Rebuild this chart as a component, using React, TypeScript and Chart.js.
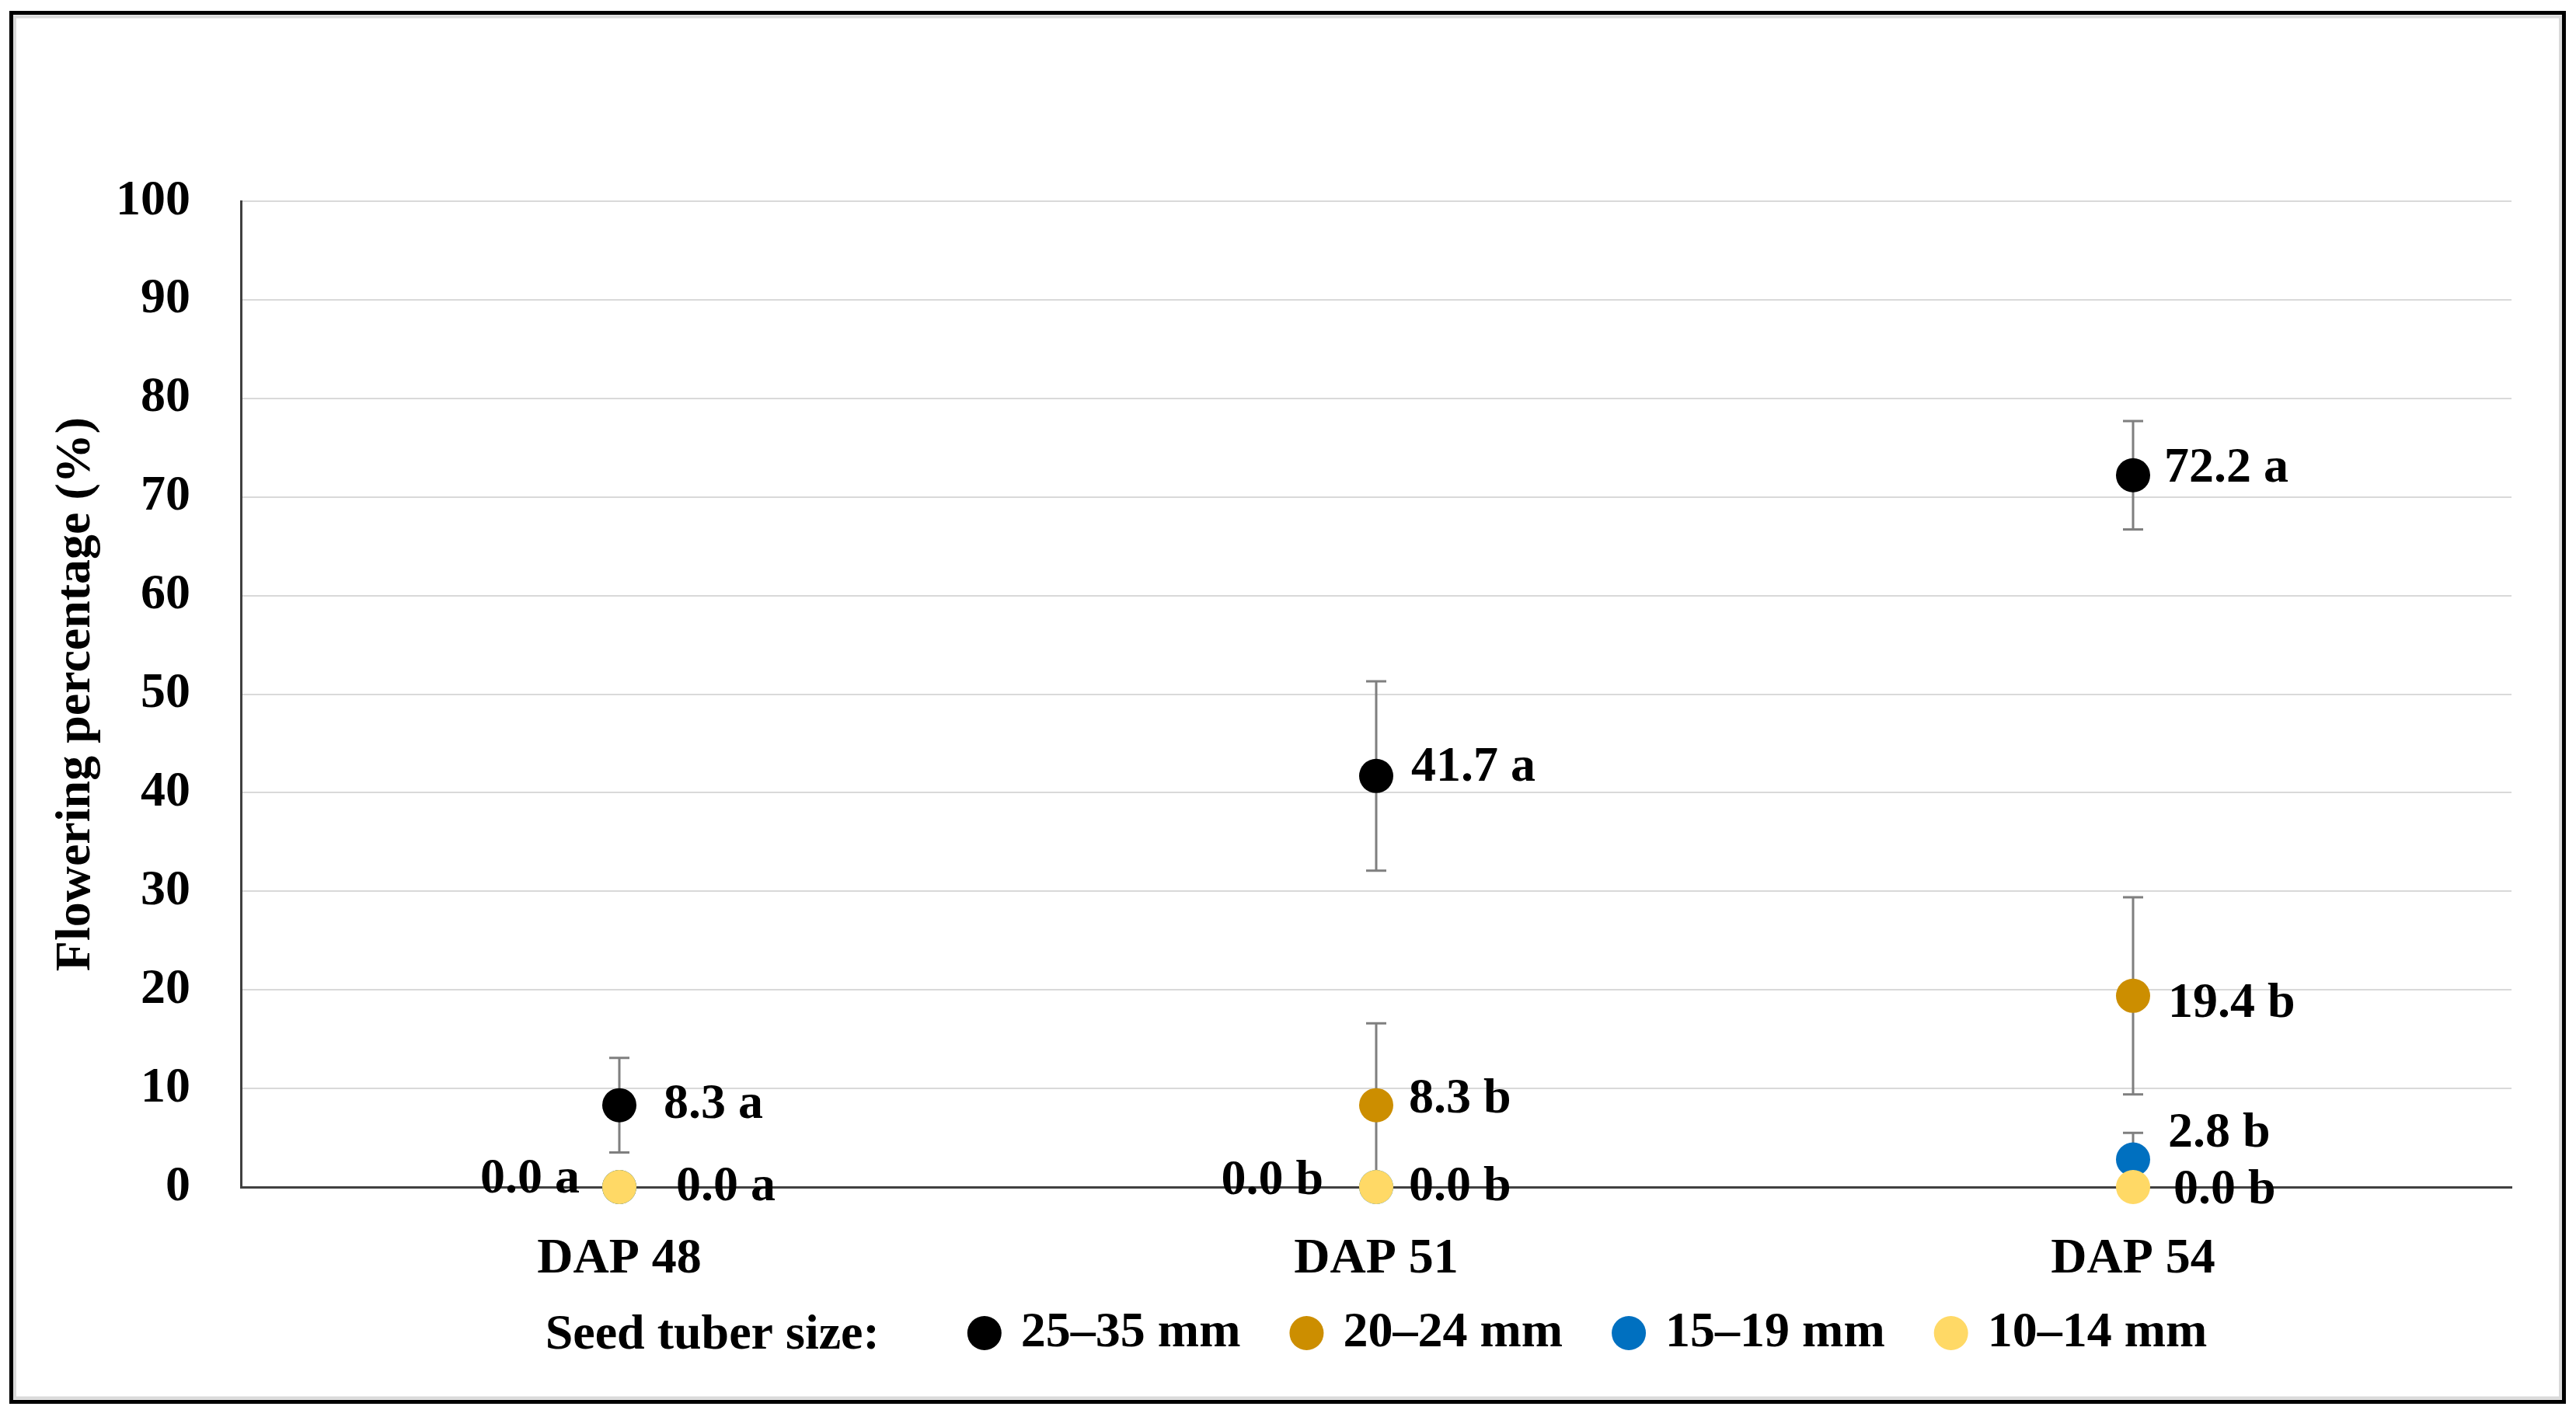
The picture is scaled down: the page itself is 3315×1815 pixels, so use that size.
import React, { useEffect, useRef } from 'react';
import { Chart, registerables } from 'chart.js';

Chart.register(...registerables);

// ---------- data ----------
const categories = ['DAP 48', 'DAP 51', 'DAP 54'];
const seriesNames = ['25–35 mm', '20–24 mm', '15–19 mm', '10–14 mm'];

const size2535 = [8.3, 41.7, 72.2];
const size2024 = [0.0, 8.3, 19.4];
const size1519 = [0.0, 0.0, 2.8];
const size1014 = [0.0, 0.0, 0.0];

const err2535 = [4.8, 9.6, 5.5];
const err2024 = [0, 8.3, 10.0];
const err1519 = [0, 0, 2.7];
const err1014 = [0, 0, 0];

const lbl2535 = ['8.3 a', '41.7 a', '72.2 a'];
const lbl2024 = ['', '8.3 b', '19.4 b'];
const lbl1519 = ['0.0 a', '0.0 b', '2.8 b'];
const lbl1014 = ['0.0 a', '0.0 b', '0.0 b'];

const yMin = 0;
const yMax = 100;
const yStep = 10;

const yAxisTitle = 'Flowering percentage (%)';
const legendTitle = 'Seed tuber size:';

// ---------- styles ----------
const FONT = '"Liberation Serif", "Times New Roman", serif';
const FONT_SIZE = 64;
const colors = ['#000000', '#CC8E00', '#0070C0', '#FFD966'];
const drawOrder = [3, 2, 1, 0];
// label nudges (pixels) per series: side, dx, dy
const labelSide = [
  ['right', 'right', 'right'],
  ['right', 'right', 'right'],
  ['left', 'left', 'right'],
  ['right', 'right', 'right'],
];
const labelDx = [
  [57, 45, 40],
  [45, 42, 45],
  [-51, -68, 45],
  [73, 42, 52],
];
const labelDy = [
  [0, -10, -8],
  [0, -7, 11],
  [-10, -8, -33],
  [0, 0, 4],
];

const values = [size2535, size2024, size1519, size1014];
const errors = [err2535, err2024, err1519, err1014];
const labels = [lbl2535, lbl2024, lbl1519, lbl1014];

const framePlugin = {
  id: 'frame',
  beforeDraw(chart: any) {
    const ctx = chart.ctx;
    const W = chart.width;
    const H = chart.height;
    ctx.save();
    ctx.fillStyle = '#ffffff';
    ctx.fillRect(0, 0, W, H);
    ctx.strokeStyle = '#dadada';
    ctx.lineWidth = 4;
    ctx.strokeRect(19, 21.5, 3295 - 19, 1799.5 - 21.5);
    ctx.strokeStyle = '#000000';
    ctx.lineWidth = 5;
    ctx.strokeRect(14.5, 16.5, 3299.5 - 14.5, 1804.5 - 16.5);
    ctx.restore();
  },
};

const errorBarPlugin = {
  id: 'errorBars',
  beforeDatasetsDraw(chart: any) {
    const ctx = chart.ctx;
    const y = chart.scales.y;
    ctx.save();
    ctx.strokeStyle = '#7F7F7F';
    ctx.lineWidth = 3;
    values.forEach((vals, i) => {
      const meta = chart.getDatasetMeta(i);
      vals.forEach((v, j) => {
        const e = errors[i][j];
        if (!e) return;
        const x = meta.data[j].x;
        const yt = y.getPixelForValue(v + e);
        const yb = y.getPixelForValue(Math.max(v - e, 0));
        ctx.beginPath();
        ctx.moveTo(x, yt);
        ctx.lineTo(x, yb);
        ctx.moveTo(x - 13, yt);
        ctx.lineTo(x + 13, yt);
        ctx.moveTo(x - 13, yb);
        ctx.lineTo(x + 13, yb);
        ctx.stroke();
      });
    });
    ctx.restore();
  },
};

const dataLabelPlugin = {
  id: 'dataLabels',
  afterDatasetsDraw(chart: any) {
    const ctx = chart.ctx;
    ctx.save();
    ctx.fillStyle = '#000000';
    ctx.font = `bold ${FONT_SIZE}px ${FONT}`;
    ctx.textBaseline = 'middle';
    labels.forEach((lbls, i) => {
      const meta = chart.getDatasetMeta(i);
      lbls.forEach((t, j) => {
        if (!t) return;
        const p = meta.data[j];
        ctx.textAlign = labelSide[i][j] === 'left' ? 'right' : 'left';
        ctx.fillText(t, p.x + labelDx[i][j], p.y + labelDy[i][j]);
      });
    });
    ctx.restore();
  },
};

const legendPlugin = {
  id: 'customLegend',
  afterDraw(chart: any) {
    const ctx = chart.ctx;
    const area = chart.chartArea;
    const cy = 1716;
    const r = 22;
    ctx.save();
    ctx.font = `bold ${FONT_SIZE}px ${FONT}`;
    ctx.textBaseline = 'middle';
    ctx.textAlign = 'left';
    const titleW = ctx.measureText(legendTitle).width;
    const textW = seriesNames.map((s) => ctx.measureText(s).width);
    const gapTitle = 113;
    const gapMarkerText = 25;
    const gapItem = 63;
    let total = titleW + gapTitle;
    textW.forEach((w, k) => {
      total += 2 * r + gapMarkerText + w + (k < textW.length - 1 ? gapItem : 0);
    });
    let x = (area.left + area.right) / 2 - total / 2;
    ctx.fillStyle = '#000000';
    ctx.fillText(legendTitle, x, cy + 3);
    x += titleW + gapTitle;
    seriesNames.forEach((s, k) => {
      ctx.fillStyle = colors[k];
      ctx.beginPath();
      ctx.arc(x + r, cy, r, 0, Math.PI * 2);
      ctx.fill();
      x += 2 * r + gapMarkerText;
      ctx.fillStyle = '#000000';
      ctx.fillText(s, x, cy);
      x += textW[k] + gapItem;
    });
    ctx.restore();
  },
};

export default function App() {
  const canvasRef = useRef<HTMLCanvasElement | null>(null);

  useEffect(() => {
    if (!canvasRef.current) return;
    const chart = new Chart(canvasRef.current, {
      type: 'line',
      data: {
        labels: categories,
        datasets: values.map((vals, i) => ({
          label: seriesNames[i],
          data: vals,
          showLine: false,
          order: drawOrder[i],
          pointRadius: 22,
          pointHoverRadius: 22,
          pointBackgroundColor: colors[i],
          pointBorderColor: colors[i],
          pointBorderWidth: 0,
          backgroundColor: colors[i],
          borderColor: colors[i],
          clip: false as any,
        })),
      },
      options: {
        animation: false,
        responsive: true,
        maintainAspectRatio: false,
        devicePixelRatio: 1,
        layout: { padding: { left: 0, top: 259, right: 83, bottom: 157 } },
        plugins: {
          legend: { display: false },
          tooltip: { enabled: false },
        },
        scales: {
          x: {
            type: 'category',
            offset: true,
            grid: { display: false, drawTicks: false },
            border: { display: true, color: '#404040', width: 3 },
            ticks: {
              padding: 55,
              color: '#000000',
              font: { family: FONT, size: FONT_SIZE, weight: 'bold' },
            },
            afterFit: (scale: any) => {
              scale.height = 130;
            },
          },
          y: {
            min: yMin,
            max: yMax,
            grid: { color: '#D9D9D9', lineWidth: 2, drawTicks: false },
            border: { display: true, color: '#404040', width: 3 },
            ticks: {
              stepSize: yStep,
              padding: 65,
              color: '#000000',
              font: { family: FONT, size: FONT_SIZE, weight: 'bold' },
            },
            title: {
              display: true,
              text: yAxisTitle,
              color: '#000000',
              padding: { top: 60, bottom: 0 },
              font: { family: FONT, size: FONT_SIZE, weight: 'bold' },
            },
            afterFit: (scale: any) => {
              scale.width = 310;
            },
          },
        },
      } as any,
      plugins: [framePlugin, errorBarPlugin, dataLabelPlugin, legendPlugin],
    });
    return () => chart.destroy();
  }, []);

  return (
    <div
      style={{
        position: 'fixed',
        left: 0,
        top: 0,
        width: 3315,
        height: 1815,
        background: '#ffffff',
      }}
    >
      <canvas ref={canvasRef} />
    </div>
  );
}
